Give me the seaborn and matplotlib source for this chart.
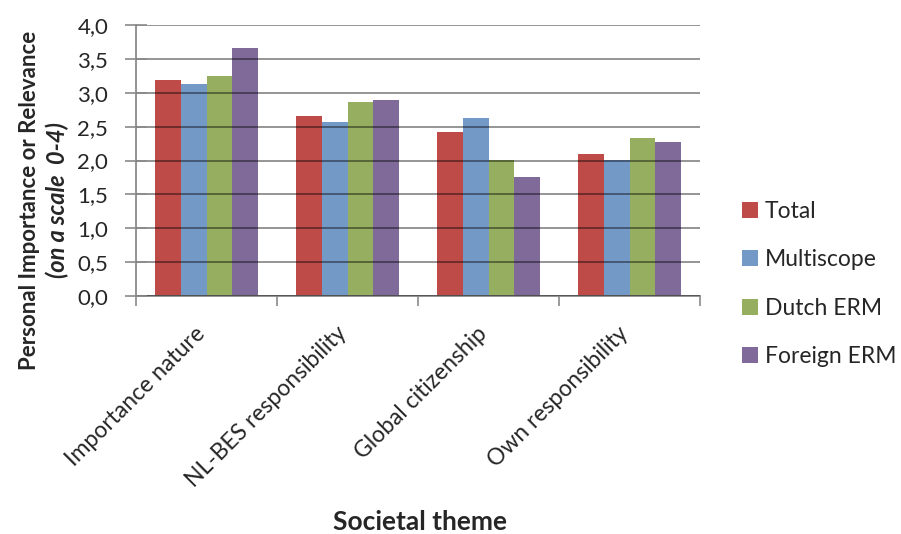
import matplotlib
matplotlib.use("Agg")
import matplotlib.pyplot as plt
import seaborn as sns
import pandas as pd
from matplotlib.ticker import FixedLocator, FuncFormatter

categories = ["Importance nature", "NL-BES responsibility", "Global citizenship", "Own responsibility"]
series = ["Total", "Multiscope", "Dutch ERM", "Foreign ERM"]
total = [3.19, 2.66, 2.42, 2.10]
multiscope = [3.13, 2.57, 2.63, 2.01]
dutch_erm = [3.25, 2.87, 2.01, 2.33]
foreign_erm = [3.66, 2.89, 1.75, 2.28]
colors = ["#BE4B48", "#7399C6", "#95AE5F", "#806A9A"]
yticks = [0.0, 0.5, 1.0, 1.5, 2.0, 2.5, 3.0, 3.5, 4.0]

sns.set_theme(style="white")
plt.rcParams["font.family"] = ["Lato", "DejaVu Sans"]

rows = []
for s, vals in zip(series, [total, multiscope, dutch_erm, foreign_erm]):
    for c, v in zip(categories, vals):
        rows.append({"theme": c, "group": s, "value": v})
df = pd.DataFrame(rows)

fig = plt.figure(figsize=(9.01, 5.34), dpi=100)
ax = fig.add_axes([136/901, 1-296/534, (700-136)/901, (296-25)/534])

sns.barplot(data=df, x="theme", y="value", hue="group", order=categories,
            hue_order=series, palette=colors, width=0.73, gap=0,
            linewidth=0, saturation=1, ax=ax, legend=True)

ax.set_xlim(-0.5, 3.5)
ax.set_ylim(0, 4)
ax.set_yticks(yticks)
ax.yaxis.set_major_formatter(FuncFormatter(lambda v, p: f"{v:.1f}".replace(".", ",")))
ax.tick_params(axis="y", direction="inout", length=16, width=1.2, color="#8a8a8a",
               labelsize=16, pad=12, left=True)
ax.grid(axis="y", color="black", alpha=0.45, linewidth=1.3)
ax.set_axisbelow(False)

for s in ["top", "right"]:
    ax.spines[s].set_visible(False)
for s in ["left", "bottom"]:
    ax.spines[s].set_color("#8a8a8a")
    ax.spines[s].set_linewidth(1.3)

ax.xaxis.set_minor_locator(FixedLocator([-0.5, 0.5, 1.5, 2.5, 3.5]))
ax.tick_params(axis="x", which="minor", direction="out", length=7, width=1.2, color="#8a8a8a", bottom=True)
ax.tick_params(axis="x", which="major", length=0, labelsize=16.5, pad=28)
for lbl in ax.get_xticklabels():
    lbl.set_rotation(45)
    lbl.set_ha("right")
    lbl.set_va("baseline")
    lbl.set_rotation_mode("anchor")

ax.set_xlabel("")
ax.set_ylabel("")

handles, labels = ax.get_legend_handles_labels()
ax.get_legend().remove()
fig.legend(handles, labels, loc="center left", bbox_to_anchor=(742/901, 1-284/534),
           frameon=False, fontsize=16.5, handlelength=0.7, handleheight=0.7,
           handletextpad=0.3, labelspacing=1.2, borderaxespad=0, borderpad=0)

fig.text(420/901, 1-522/534, "Societal theme", ha="center", va="center",
         fontsize=19, fontweight="bold")
fig.text(30/901, 1-200/534, "Personal Importance or Relevance", rotation=90,
         ha="center", va="center", fontsize=16, fontweight="bold")
fig.text(57/901, 1-200/534, "(on a scale  0-4)", rotation=90,
         ha="center", va="center", fontsize=17, fontweight="bold", fontstyle="italic")

fig.savefig("out.png", dpi=100)
